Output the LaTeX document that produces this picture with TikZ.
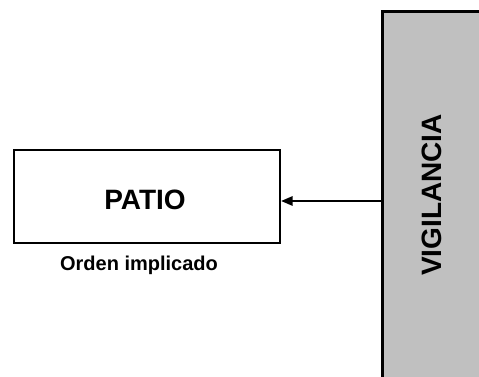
\documentclass[tikz,border=0pt]{standalone}
\usepackage{fontspec}
\setmainfont{Liberation Sans}
\usetikzlibrary{arrows.meta}
\definecolor{bargray}{RGB}{192,192,192}
\begin{document}
\begin{tikzpicture}[x=0.75pt,y=-0.75pt,
  boxstyle/.style={draw=black,line width=1.5pt,minimum width=200pt,minimum height=69.75pt,inner sep=0pt,anchor=north west},
  bigtext/.style={font=\bfseries\fontsize{21}{25}\selectfont,inner sep=0pt},
  smalltext/.style={font=\bfseries\fontsize{15}{18}\selectfont,inner sep=0pt},
  conn/.style={line width=1.2pt,-{Triangle[length=8.5pt,width=7pt]}}]
\useasboundingbox (0,0) rectangle (479,377);
% gray bar
\fill[bargray] (382,12) rectangle (485,385);
\coordinate (bartop) at (382,12);
\coordinate (barbot) at (382,385);
\coordinate (barright) at (485,12);
\draw[line width=2.25pt] (barbot) -- (bartop) -- (barright);
\node[bigtext,rotate=90] (vig) at (432,195) {VIGILANCIA};
% box
\node[boxstyle] (patio) at (12.5,149.5) {};
\node[bigtext] (patiotext) at (145,200) {PATIO};
\node[smalltext,anchor=base] (orden) at (139,271) {Orden implicado};
% arrow
\coordinate (src) at (382,201);
\draw[conn] (src) -- (src -| patio.east);
\end{tikzpicture}
\end{document}
